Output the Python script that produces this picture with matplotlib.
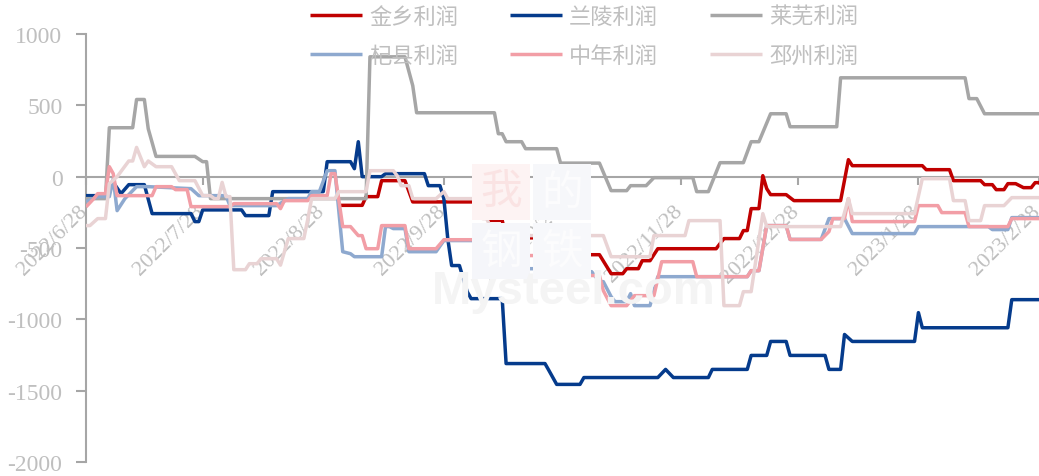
import matplotlib
matplotlib.use('Agg')
import matplotlib.pyplot as plt
import matplotlib.transforms as mtransforms
import pandas as pd
from matplotlib.patches import Rectangle

plt.rcParams['axes.unicode_minus'] = False

# ---------------- data ----------------
tick_labels = ['2022/6/28', '2022/7/28', '2022/8/28', '2022/9/28', '2022/10/28',
               '2022/11/28', '2022/12/28', '2023/1/28', '2023/2/28']
y_ticks = [1000, 500, 0, -500, -1000, -1500, -2000]

series_names = ['金乡利润', '兰陵利润', '莱芜利润', '杞县利润', '中年利润', '邳州利润']

jinxiang_dates = ['2022-09-01', '2022-09-07', '2022-09-08', '2022-09-11', '2022-09-12', '2022-09-18',
                  '2022-09-20', '2022-10-06', '2022-10-08', '2022-10-09', '2022-10-10', '2022-10-13',
                  '2022-10-14', '2022-10-27', '2022-10-28', '2022-11-01', '2022-11-03', '2022-11-07',
                  '2022-11-10', '2022-11-13', '2022-11-14', '2022-11-17', '2022-11-18', '2022-11-20',
                  '2022-11-22', '2022-12-07', '2022-12-09', '2022-12-13', '2022-12-14', '2022-12-15',
                  '2022-12-16', '2022-12-18', '2022-12-19', '2022-12-20', '2022-12-21', '2022-12-25',
                  '2022-12-27', '2023-01-08', '2023-01-10', '2023-01-11', '2023-01-29', '2023-01-30',
                  '2023-02-05', '2023-02-06', '2023-02-13', '2023-02-14', '2023-02-16', '2023-02-17',
                  '2023-02-19', '2023-02-20', '2023-02-22', '2023-02-24', '2023-02-26', '2023-02-27',
                  '2023-02-28']
jinxiang_vals = [-201, -201, -140, -140, -28, -28,
                 -177, -177, -271, -271, -306, -306,
                 -429, -429, -519, -526, -547, -547,
                 -680, -680, -645, -645, -589, -589,
                 -505, -505, -434, -434, -378, -378,
                 -224, -224, 7, -84, -126, -126,
                 -168, -168, 119, 77, 77, 49,
                 49, -28, -28, -56, -56, -91,
                 -91, -49, -49, -77, -77, -42,
                 -42]

lanling_dates = ['2022-06-28', '2022-07-02', '2022-07-03', '2022-07-05', '2022-07-07', '2022-07-09',
                 '2022-07-13', '2022-07-15', '2022-07-25', '2022-07-26', '2022-07-27', '2022-07-28',
                 '2022-08-07', '2022-08-08', '2022-08-14', '2022-08-15', '2022-08-28', '2022-08-29',
                 '2022-09-04', '2022-09-05', '2022-09-06', '2022-09-07', '2022-09-12', '2022-09-13',
                 '2022-09-23', '2022-09-24', '2022-09-27', '2022-09-28', '2022-09-29', '2022-09-30',
                 '2022-10-02', '2022-10-04', '2022-10-05', '2022-10-13', '2022-10-14', '2022-10-24',
                 '2022-10-25', '2022-10-27', '2022-11-02', '2022-11-03', '2022-11-22', '2022-11-24',
                 '2022-11-26', '2022-12-05', '2022-12-06', '2022-12-15', '2022-12-16', '2022-12-20',
                 '2022-12-21', '2022-12-25', '2022-12-26', '2023-01-04', '2023-01-05', '2023-01-08',
                 '2023-01-09', '2023-01-11', '2023-01-27', '2023-01-28', '2023-01-29', '2023-02-20',
                 '2023-02-21', '2023-02-28']
lanling_vals = [-133, -133, -119, -40, -119, -56,
                -56, -259, -259, -315, -315, -233,
                -233, -273, -273, -105, -105, 105,
                105, 56, 245, 0, 0, 21,
                21, -63, -63, -154, -434, -623,
                -623, -806, -855, -855, -1310, -1310,
                -1358, -1456, -1456, -1408, -1408, -1351,
                -1408, -1408, -1351, -1351, -1253, -1253,
                -1155, -1155, -1253, -1253, -1351, -1351,
                -1106, -1155, -1155, -953, -1059, -1059,
                -862, -862]

laiwu_dates = ['2022-06-28', '2022-07-03', '2022-07-04', '2022-07-10', '2022-07-11', '2022-07-13',
               '2022-07-14', '2022-07-16', '2022-07-26', '2022-07-28', '2022-07-29', '2022-07-30',
               '2022-09-08', '2022-09-09', '2022-09-18', '2022-09-20', '2022-09-21', '2022-10-11',
               '2022-10-12', '2022-10-13', '2022-10-14', '2022-10-18', '2022-10-19', '2022-10-27',
               '2022-10-28', '2022-11-07', '2022-11-10', '2022-11-14', '2022-11-15', '2022-11-19',
               '2022-11-20', '2022-11-21', '2022-12-01', '2022-12-02', '2022-12-05', '2022-12-08',
               '2022-12-14', '2022-12-16', '2022-12-18', '2022-12-21', '2022-12-25', '2022-12-26',
               '2023-01-07', '2023-01-08', '2023-02-09', '2023-02-10', '2023-02-12', '2023-02-14',
               '2023-02-28']
laiwu_vals = [-154, -154, 343, 343, 541, 541,
              336, 142, 142, 105, 105, -154,
              -154, 840, 840, 638, 448, 448,
              301, 301, 245, 245, 196, 196,
              95, 95, -98, -98, -63, -63,
              -35, -7, -7, -105, -105, 98,
              98, 245, 245, 441, 441, 350,
              350, 693, 693, 547, 547, 441,
              441]

qixian_dates = ['2022-06-28', '2022-07-01', '2022-07-04', '2022-07-05', '2022-07-06', '2022-07-08',
                '2022-07-11', '2022-07-14', '2022-07-25', '2022-07-27', '2022-08-03', '2022-08-04',
                '2022-08-16', '2022-08-19', '2022-08-24', '2022-08-25', '2022-08-27', '2022-08-29',
                '2022-08-31', '2022-09-02', '2022-09-04', '2022-09-05', '2022-09-12', '2022-09-13',
                '2022-09-14', '2022-09-15', '2022-09-18', '2022-09-19', '2022-09-26', '2022-09-28',
                '2022-10-07', '2022-10-09', '2022-10-10', '2022-10-12', '2022-10-14', '2022-10-15',
                '2022-10-27', '2022-10-28', '2022-11-05', '2022-11-07', '2022-11-08', '2022-11-10',
                '2022-11-11', '2022-11-14', '2022-11-15', '2022-11-16', '2022-11-20', '2022-11-22',
                '2022-12-15', '2022-12-16', '2022-12-18', '2022-12-20', '2022-12-25', '2022-12-26',
                '2023-01-03', '2023-01-05', '2023-01-09', '2023-01-11', '2023-01-27', '2023-01-28',
                '2023-02-15', '2023-02-16', '2023-02-20', '2023-02-21', '2023-02-28']
qixian_vals = [-175, -140, -140, -14, -238, -154,
               -70, -70, -84, -133, -133, -203,
               -203, -154, -154, -105, -105, 42,
               42, -526, -540, -561, -561, -350,
               -350, -364, -364, -526, -526, -448,
               -448, -483, -526, -526, -588, -645,
               -645, -666, -666, -736, -736, -841,
               -876, -876, -820, -904, -904, -701,
               -701, -659, -659, -343, -343, -440,
               -440, -294, -294, -399, -399, -350,
               -350, -371, -371, -287, -287]

zhongnian_dates = ['2022-06-28', '2022-06-30', '2022-07-01', '2022-07-03', '2022-07-04', '2022-07-05',
                   '2022-07-06', '2022-07-15', '2022-07-16', '2022-07-20', '2022-07-21', '2022-07-24',
                   '2022-07-25', '2022-08-04', '2022-08-05', '2022-08-16', '2022-08-17', '2022-08-18',
                   '2022-08-24', '2022-08-25', '2022-08-29', '2022-08-30', '2022-08-31', '2022-09-02',
                   '2022-09-04', '2022-09-06', '2022-09-07', '2022-09-08', '2022-09-11', '2022-09-12',
                   '2022-09-18', '2022-09-19', '2022-09-26', '2022-09-28', '2022-10-07', '2022-10-09',
                   '2022-10-10', '2022-10-12', '2022-10-14', '2022-11-01', '2022-11-02', '2022-11-03',
                   '2022-11-04', '2022-11-07', '2022-11-08', '2022-11-10', '2022-11-14', '2022-11-16',
                   '2022-11-21', '2022-11-23', '2022-12-01', '2022-12-02', '2022-12-15', '2022-12-16',
                   '2022-12-18', '2022-12-20', '2022-12-25', '2022-12-26', '2023-01-03', '2023-01-05',
                   '2023-01-06', '2023-01-09', '2023-01-10', '2023-01-11', '2023-01-27', '2023-01-28',
                   '2023-02-02', '2023-02-03', '2023-02-09', '2023-02-10', '2023-02-20', '2023-02-21',
                   '2023-02-28']
zhongnian_vals = [-212, -154, -119, -119, 70, 21,
                  -133, -133, -70, -70, -91, -91,
                  -210, -210, -189, -189, -224, -168,
                  -168, -133, -133, 21, 21, -350,
                  -350, -413, -413, -505, -505, -343,
                  -343, -505, -505, -442, -442, -350,
                  -392, -505, -553, -553, -505, -553,
                  -693, -693, -799, -904, -904, -834,
                  -834, -596, -596, -701, -701, -659,
                  -659, -343, -343, -440, -440, -385,
                  -294, -294, -154, -315, -315, -203,
                  -203, -252, -252, -350, -350, -294,
                  -294]

pizhou_dates = ['2022-06-28', '2022-06-29', '2022-07-01', '2022-07-03', '2022-07-04', '2022-07-06',
                '2022-07-09', '2022-07-10', '2022-07-11', '2022-07-13', '2022-07-14', '2022-07-16',
                '2022-07-20', '2022-07-22', '2022-07-26', '2022-07-28', '2022-07-30', '2022-07-31',
                '2022-08-01', '2022-08-02', '2022-08-03', '2022-08-04', '2022-08-05', '2022-08-08',
                '2022-08-09', '2022-08-11', '2022-08-12', '2022-08-16', '2022-08-17', '2022-08-19',
                '2022-08-23', '2022-08-24', '2022-08-25', '2022-08-31', '2022-09-01', '2022-09-08',
                '2022-09-09', '2022-09-15', '2022-09-16', '2022-09-17', '2022-09-19', '2022-09-20',
                '2022-09-26', '2022-09-28', '2022-09-29', '2022-10-06', '2022-10-08', '2022-10-09',
                '2022-10-11', '2022-11-08', '2022-11-10', '2022-11-20', '2022-11-21', '2022-11-29',
                '2022-11-30', '2022-12-08', '2022-12-09', '2022-12-13', '2022-12-14', '2022-12-16',
                '2022-12-19', '2022-12-20', '2023-01-08', '2023-01-10', '2023-01-11', '2023-01-27',
                '2023-01-29', '2023-02-05', '2023-02-06', '2023-02-09', '2023-02-10', '2023-02-13',
                '2023-02-14', '2023-02-19', '2023-02-21', '2023-02-28']
pizhou_vals = [-343, -343, -294, -294, -49, 0,
               110, 110, 205, 70, 110, 70,
               70, -28, -28, -133, -133, -154,
               -154, -40, -140, -140, -652, -652,
               -610, -610, -575, -575, -620, -434,
               -434, -300, -154, -154, -105, -105,
               42, 42, 7, -63, -63, -154,
               -154, -105, -154, -154, -294, -294,
               -413, -413, -561, -561, -413, -413,
               -308, -308, -904, -904, -806, -806,
               -259, -350, -350, -154, -259, -259,
               -14, -14, -168, -168, -308, -308,
               -203, -203, -147, -147]

series_colors = ['#C00000', '#053B8C', '#A6A6A6', '#8EA9CF', '#F29EA6', '#E9D3D4']

# ---------------- figure ----------------
W, H = 1039, 477
fig = plt.figure(figsize=(W / 100, H / 100), dpi=100)
ax = fig.add_axes([86 / W, 1 - 463 / H, 1 - 86 / W, (463 - 35) / H])
ax.patch.set_alpha(0)

# very faint watermark (figure coordinates)
wm_boxes = [((472, 165), '#FDF3F3', '我', '#FAE3E3'),
            ((533, 165), '#F6F7FA', '的', '#FCFCFD'),
            ((472, 224), '#F5F6FA', '钢', '#FCFCFD'),
            ((533, 224), '#F7F8FB', '铁', '#FCFCFD')]
for (bx, by), fc, ch, tc in wm_boxes:
    fig.patches.append(Rectangle((bx / W, 1 - (by + 56) / H), 58 / W, 56 / H,
                                 transform=fig.transFigure, facecolor=fc, edgecolor='none', zorder=0))
    fig.text((bx + 29) / W, 1 - (by + 28) / H, ch, color=tc, fontsize=30,
             family=['Noto Sans CJK SC'], ha='center', va='center', zorder=0.5)
fig.text(432 / W, 1 - 292 / H, 'Mysteel.com', color='#F4F4F4', fontsize=34, fontweight='bold',
         family=['Liberation Sans'], ha='left', va='center', zorder=0.5)

all_dates = [jinxiang_dates, lanling_dates, laiwu_dates, qixian_dates, zhongnian_dates, pizhou_dates]
all_vals = [jinxiang_vals, lanling_vals, laiwu_vals, qixian_vals, zhongnian_vals, pizhou_vals]

handles = []
for name, d, v, c in zip(series_names, all_dates, all_vals, series_colors):
    ln, = ax.plot(pd.to_datetime(d), v, color=c, lw=2.5, label=name,
                  solid_joinstyle='round', solid_capstyle='butt', zorder=3)
    handles.append(ln)

tick_dates = pd.to_datetime(tick_labels, format='%Y/%m/%d')
ax.set_xlim(tick_dates[0], tick_dates[-1])
ax.set_ylim(-2000, 1000)
ax.set_xticks(tick_dates)
ax.set_xticklabels(tick_labels)
ax.set_yticks(y_ticks)
ax.set_yticklabels([str(t) for t in y_ticks])

for s in ['top', 'right']:
    ax.spines[s].set_visible(False)
ax.spines['bottom'].set_position(('data', 0))
for s in ['left', 'bottom']:
    ax.spines[s].set_color('#A6A6A6')
    ax.spines[s].set_linewidth(1.5)
ax.spines['bottom'].set_zorder(2)

ax.tick_params(axis='x', direction='out', length=6, width=1.5, color='#A6A6A6',
               pad=9, labelsize=16, labelcolor='#BFBFBF', labelrotation=45)
ax.tick_params(axis='y', direction='out', length=7, width=1.5, color='#A6A6A6',
               pad=10, labelsize=17, labelcolor='#BFBFBF')
shift = mtransforms.ScaledTranslation(5 / 100, -4 / 100, fig.dpi_scale_trans)
for lbl in ax.get_xticklabels():
    lbl.set_ha('right')
    lbl.set_family(['Liberation Serif'])
    lbl.set_transform(lbl.get_transform() + shift)
for lbl in ax.get_yticklabels():
    lbl.set_family(['Liberation Serif'])

# legend laid out row-wise (3 columns, 2 rows); matplotlib fills column-wise
order = [0, 3, 1, 4, 2, 5]
leg = fig.legend([handles[i] for i in order], [series_names[i] for i in order],
                 ncol=3, loc='upper left',
                 bbox_to_anchor=(310 / W, 1 - 6 / H), frameon=False,
                 prop={'family': ['Noto Sans CJK SC'], 'size': 16},
                 handlelength=2.35, handletextpad=0.3, columnspacing=2.35,
                 labelspacing=0.7, borderpad=0, borderaxespad=0)
for t in leg.get_texts():
    t.set_color('#BFBFBF')

fig.savefig('out.png', dpi=100)
